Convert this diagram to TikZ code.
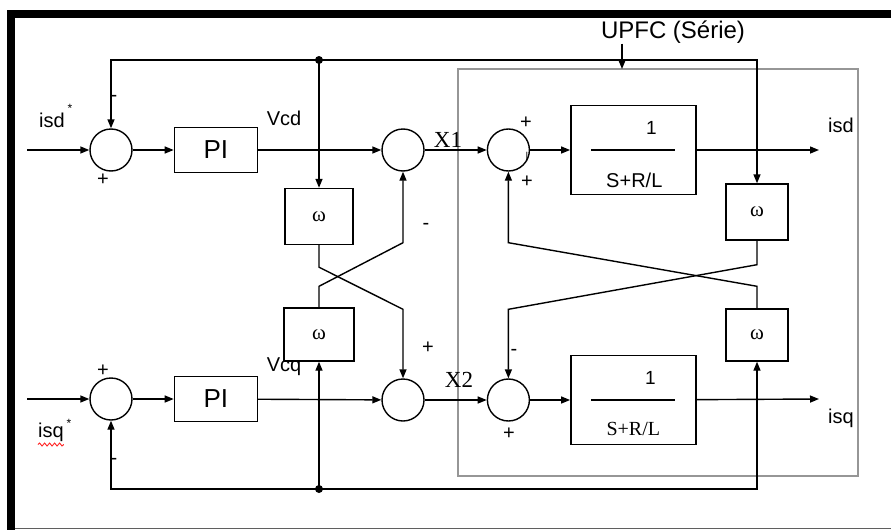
\documentclass[tikz,border=0pt]{standalone}
\usepackage{fontspec}
\setmainfont{Liberation Sans}
\newfontfamily\timesfont{Liberation Serif}
\usetikzlibrary{arrows.meta,positioning,decorations.pathmorphing}
\definecolor{upfcgray}{RGB}{150,150,150}
\definecolor{framegray}{RGB}{95,95,95}
\tikzset{
  sumnode/.style={draw, circle, line width=1.4pt, minimum size=42pt, inner sep=0pt},
  piblock/.style={draw, line width=1.4pt, minimum width=83pt, minimum height=45pt,
    inner sep=0pt, font=\fontsize{26}{26}\selectfont},
  tfblock/.style={draw, line width=1.4pt, minimum width=125pt, minimum height=89pt, inner sep=0pt},
  wblock/.style={draw, line width=1.4pt, minimum width=62pt, minimum height=56pt,
    inner sep=0pt, font=\timesfont\fontsize{21}{21}\selectfont},
  flow/.style={-{Triangle[length=9pt,width=7pt]}, line width=1.4pt},
  sign/.style={font=\fontsize{20}{20}\selectfont, inner sep=0pt},
  lbl/.style={font=\fontsize{20}{20}\selectfont, inner sep=0pt}
}

\begin{document}
\begin{tikzpicture}[x=1pt,y=-1pt]
      \useasboundingbox (0,0) rectangle (891,530);
      % frame
      \fill (7,10) rectangle (891,18);
      \fill (7,10) rectangle (15,530);
      \draw[framegray, line width=1.5pt] (15,528.5) -- (891,528.5);
      % UPFC series part
      \node[draw=upfcgray, line width=1.5pt, minimum width=400pt, minimum height=407pt] (upfcbox) at (658,272.5) {};
      \node[lbl, font=\fontsize{24}{24}\selectfont] (upfc) at (673,32) {UPFC (Série)};
      \coordinate (upfctip) at (622,69);
      \draw[flow] (upfc.south -| upfctip) -- (upfctip);

      % d axis
      \coordinate (ind) at (27,150);
      \node[sumnode] (sumd) at (111,150) {};
      \node[piblock, right=41pt of sumd] (pid) {PI};
      \node[sumnode] (sumxd) at (403,150) {};
      \node[sumnode, right=62pt of sumxd] (sumud) {};
      \node[tfblock, right=40pt of sumud] (tfd) {};
      \coordinate (outd) at (819,150);
      \node[wblock, minimum width=68pt] (wd1) at (319,216.5) {ω};
      \node[wblock] (wd2) at (757,212) {ω};

      % q axis
      \coordinate (inq) at (27,399);
      \node[sumnode] (sumq) at (111,399) {};
      \node[piblock, right=41pt of sumq] (piq) {PI};
      \node[sumnode] (sumxq) at (403,400) {};
      \node[sumnode, right=62pt of sumxq] (sumuq) {};
      \node[tfblock, right=40pt of sumuq] (tfq) {};
      \coordinate (outq) at (819,399);
      \node[wblock, minimum width=70pt, minimum height=53pt] (wq1) at (319,334.5) {ω};
      \node[wblock, minimum height=52pt] (wq2) at (757,335) {ω};

      % transfer functions
      \draw[line width=1.4pt] ([xshift=-42pt]tfd.center) -- ([xshift=42pt]tfd.center);
      \node[lbl, font=\fontsize{19}{19}\selectfont] (numd) at ([xshift=18pt,yshift=22pt]tfd.center) {1};
      \node[lbl] (dend) at ([xshift=1pt,yshift=-30pt]tfd.center) {S+R/L};
      \draw[line width=1.4pt] ([xshift=-42pt]tfq.center) -- ([xshift=42pt]tfq.center);
      \node[lbl, font=\fontsize{19}{19}\selectfont] (numq) at ([xshift=17pt,yshift=22pt]tfq.center) {1};
      \node[lbl, font=\timesfont\fontsize{20}{20}\selectfont] (denq) at ([xshift=0pt,yshift=-29pt]tfq.center) {S+R/L};

      % forward paths
      \draw[flow] (ind) -- (sumd);
      \draw[flow] (sumd) -- (pid);
      \draw[flow] (pid) -- (sumxd);
      \draw[flow] (sumxd) -- (sumud);
      \draw[flow] (sumud) -- (tfd);
      \draw[flow] (tfd) -- (outd);
      \draw[flow] (inq) -- (sumq);
      \draw[flow] (sumq) -- (piq);
      \draw[flow] (piq) -- (sumxq);
      \draw[flow] (sumxq) -- (sumuq);
      \draw[flow] (sumuq) -- (tfq);
      \draw[flow] (tfq) -- (outq);

      % feedback
      \coordinate (fbd) at (319,60);
      \coordinate (fbq) at (319,489);
      \draw[flow] (fbd) -| (sumd.north);
      \draw[flow] (fbd) -- (wd1.north);
      \draw[flow] (fbd) -| (wd2.north);
      \fill (fbd) circle (4pt);
      \draw[flow] (fbq) -| (sumq.south);
      \draw[flow] (fbq) -- (wq1.south);
      \draw[flow] (fbq) -| (wq2.south);
      \fill (fbq) circle (4pt);

      % cross coupling
      \draw[flow] (wd1.south) -- ++(0,22) -- ([yshift=69pt]sumxq.north) -- (sumxq.north);
      \draw[flow] (wq1.north) -- ++(0,-21) -- ([yshift=-71pt]sumxd.south) -- (sumxd.south);
      \draw[flow] (wd2.south) -- ++(0,24) -- ([yshift=69pt]sumuq.north) -- (sumuq.north);
      \draw[flow] (wq2.north) -- ++(0,-22) -- ([yshift=-71pt]sumud.south) -- (sumud.south);

      % labels
      \node[lbl, anchor=west] (isdref) at (39,120) {isd};
      \node[lbl, font=\fontsize{12}{12}\selectfont] (isdstar) at (70,108) {*};
      \node[lbl, anchor=west] (isqref) at (38,432) {isq};
      \node[lbl, font=\fontsize{12}{12}\selectfont] (isqstar) at (69,423) {*};
      \draw[red!85, line width=0.9pt, decorate, decoration={snake, amplitude=1.5pt, segment length=5pt}]
        ([yshift=-3pt]isqref.south west) -- ([yshift=-3pt]isqref.south east);
      \node[lbl] (vcd) at (284,118) {Vcd};
      \node[lbl] (vcq) at (284,367) {Vcq};
      \node[lbl, font=\timesfont\fontsize{23}{23}\selectfont] (x1) at (448,140) {X1};
      \node[lbl, font=\timesfont\fontsize{23}{23}\selectfont] (x2) at (459,380) {X2};
      \node[lbl] (isd) at (841,125) {isd};
      \node[lbl] (isq) at (841,418) {isq};

      % signs
      \node[sign] (sdm) at (114,98) {-};
      \node[sign] (sdp) at (103,180) {+};
      \node[sign] (sqp) at (103,371) {+};
      \node[sign] (sqm) at (114,461) {-};
      \node[sign] (sxdm) at (426,226) {-};
      \node[sign] (sxqp) at (428,348) {+};
      \node[sign] (sudp) at (526,123) {+};
      \node[sign, font=\fontsize{10}{10}\selectfont] (sudt) at (527,157) {|};
      \node[sign] (sudq) at (527,182) {+};
      \node[sign] (suqm) at (514,352) {-};
      \node[sign] (suqp) at (509,434) {+};
    \end{tikzpicture}
\end{document}
